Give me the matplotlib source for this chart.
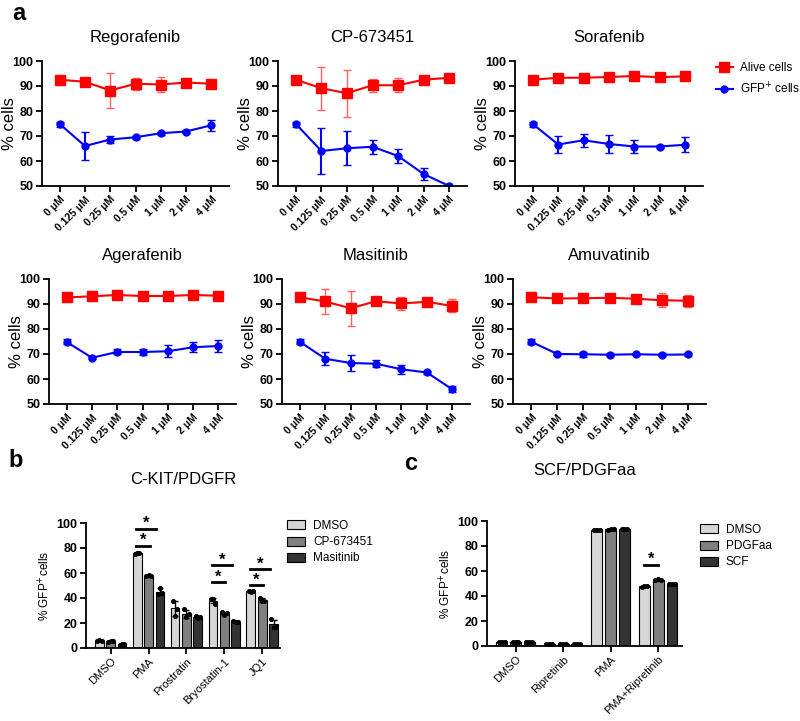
import numpy as np
import matplotlib
matplotlib.use("Agg")
import matplotlib.pyplot as plt
from matplotlib.lines import Line2D

plt.rcParams["font.family"] = ["Liberation Sans", "DejaVu Sans"]

# ---- panel a data ----
doses = ["0 μM", "0.125 μM", "0.25 μM", "0.5 μM", "1 μM", "2 μM", "4 μM"]
drugs = ["Regorafenib", "CP-673451", "Sorafenib", "Agerafenib", "Masitinib", "Amuvatinib"]

alive = {
    "Regorafenib": [92.5, 91.7, 88.2, 90.9, 90.6, 91.4, 90.9],
    "CP-673451": [92.5, 89.1, 87.1, 90.3, 90.3, 92.5, 93.3],
    "Sorafenib": [92.5, 93.3, 93.3, 93.6, 94.0, 93.5, 93.9],
    "Agerafenib": [92.6, 93.1, 93.6, 93.2, 93.2, 93.6, 93.3],
    "Masitinib": [92.7, 91.0, 88.3, 91.1, 90.2, 90.9, 89.2],
    "Amuvatinib": [92.7, 92.2, 92.3, 92.5, 92.1, 91.5, 91.3],
}
alive_err = {
    "Regorafenib": [0.5, 0.5, 7.0, 2.5, 3.1, 1.5, 0.7],
    "CP-673451": [0.5, 8.7, 9.3, 2.7, 2.8, 0.5, 0.5],
    "Sorafenib": [0.5, 0.5, 0.5, 0.5, 0.5, 0.5, 0.5],
    "Agerafenib": [0.5, 0.5, 0.5, 0.5, 0.5, 0.5, 0.5],
    "Masitinib": [0.5, 5.1, 7.0, 0.6, 2.7, 0.6, 2.6],
    "Amuvatinib": [0.5, 0.5, 0.6, 0.5, 0.6, 2.8, 2.4],
}
gfp = {
    "Regorafenib": [74.8, 66.0, 68.6, 69.5, 71.1, 71.8, 74.3],
    "CP-673451": [74.8, 64.0, 65.1, 65.7, 62.0, 54.8, 50.0],
    "Sorafenib": [74.8, 66.6, 68.3, 66.8, 65.8, 65.8, 66.5],
    "Agerafenib": [74.8, 68.5, 70.8, 70.8, 71.1, 72.7, 73.2],
    "Masitinib": [74.9, 68.1, 66.4, 66.1, 63.9, 62.6, 55.9],
    "Amuvatinib": [74.9, 70.0, 69.9, 69.7, 69.9, 69.7, 69.8],
}
gfp_err = {
    "Regorafenib": [1.0, 5.7, 1.5, 0.5, 0.5, 0.6, 2.3],
    "CP-673451": [1.0, 9.3, 6.8, 2.8, 2.7, 2.3, 0.3],
    "Sorafenib": [1.0, 3.5, 2.5, 3.5, 2.7, 0.5, 3.0],
    "Agerafenib": [1.0, 0.4, 1.0, 1.3, 2.3, 2.0, 2.5],
    "Masitinib": [1.0, 2.5, 3.2, 1.3, 1.8, 0.5, 1.3],
    "Amuvatinib": [1.0, 0.5, 1.0, 0.5, 0.5, 0.5, 0.5],
}

# ---- panel b data ----
b_groups = ["DMSO", "PMA", "Prostratin", "Bryostatin-1", "JQ1"]
b_series = ["DMSO", "CP-673451", "Masitinib"]
b_points = {
    "DMSO": [[5.5, 6.2, 6.0], [75.0, 76.2, 75.9], [38.0, 26.0, 31.0], [39.5, 39.0, 35.3], [46.0, 44.5, 45.5]],
    "CP-673451": [[5.0, 5.6, 5.3], [57.5, 58.2, 57.9], [31.0, 24.5, 27.0], [28.5, 26.5, 28.0], [40.0, 37.5, 38.0]],
    "Masitinib": [[2.6, 3.2, 2.9], [43.0, 48.0, 44.0], [25.5, 24.0, 25.0], [22.0, 21.0, 20.5], [23.0, 16.5, 17.5]],
}

# ---- panel c data ----
c_groups = ["DMSO", "Ripretinib", "PMA", "PMA+Ripretinib"]
c_series = ["DMSO", "PDGFaa", "SCF"]
c_points = {
    "DMSO": [[3.3, 3.3, 3.3], [1.8, 1.8, 1.7], [92.6, 92.8, 93.0], [47.6, 48.1, 48.0]],
    "PDGFaa": [[3.3, 3.2, 3.4], [1.7, 1.7, 1.8], [93.2, 93.4, 93.3], [53.0, 53.4, 53.2]],
    "SCF": [[3.5, 3.6, 3.4], [1.7, 1.8, 1.7], [93.7, 93.9, 93.8], [49.8, 49.3, 49.5]],
}

bar_colors = ["#d6d6d6", "#808080", "#333333"]
W, H = 800, 721


def ax_at(fig, left, top, right, bottom):
    return fig.add_axes([left / W, 1 - bottom / H, (right - left) / W, (bottom - top) / H])


def style(ax):
    for s in ("top", "right"):
        ax.spines[s].set_visible(False)
    for s in ("left", "bottom"):
        ax.spines[s].set_linewidth(1.3)
    ax.tick_params(width=1.3, length=4, pad=2)


fig = plt.figure(figsize=(8, 7.21), dpi=100)

# line panels (pixel boxes: left, top, right, bottom)
boxes = [
    (42, 61, 229, 186), (278, 61, 467, 186), (515, 61, 703, 186),
    (49, 279, 236, 404), (282, 279, 470, 404), (513, 279, 706, 404),
]
x = np.arange(len(doses))
for drug, (l, t, r, b) in zip(drugs, boxes):
    ax = ax_at(fig, l, t, r, b)
    style(ax)
    ax.errorbar(x, alive[drug], yerr=alive_err[drug], color="#ff0000", marker="s", ms=7,
                lw=1.5, capsize=3, elinewidth=1, ecolor="#ff6060")
    ax.errorbar(x, gfp[drug], yerr=gfp_err[drug], color="#0000ff", marker="o", ms=5,
                lw=1.5, capsize=3, elinewidth=1.5)
    ax.set_xlim(-0.7, 6.7)
    ax.set_ylim(50, 100)
    ax.set_yticks([50, 60, 70, 80, 90, 100])
    ax.set_xticks(x)
    ax.set_xticklabels(doses, rotation=45, ha="right", rotation_mode="anchor",
                       fontsize=7.5, fontweight="bold")
    for lab in ax.get_yticklabels():
        lab.set_fontweight("bold")
        lab.set_fontsize(9)
    ax.set_ylabel("% cells", fontsize=12)
    ax.yaxis.set_label_coords(-25 / (r - l), 0.5)
    ax.set_title(drug, fontsize=12, pad=14)

handles = [
    Line2D([], [], color="#ff0000", marker="s", ms=7, lw=1.5),
    Line2D([], [], color="#0000ff", marker="o", ms=5, lw=1.5),
]
fig.legend(handles, ["Alive cells", "GFP$^{+}$ cells"], loc="upper left",
           bbox_to_anchor=(716 / W, 1 - 62 / H), frameon=False, fontsize=8.5,
           handlelength=1.4, handletextpad=0.6, labelspacing=0.6, borderaxespad=0, borderpad=0)


def bar_panel(ax, groups, series, points, gap, width):
    style(ax)
    xg = np.arange(len(groups))
    for i, name in enumerate(series):
        pts = np.array(points[name])
        means = pts.mean(axis=1)
        sds = pts.std(axis=1, ddof=1)
        xs = xg + (i - 1) * gap
        ax.bar(xs, means, width=width, color=bar_colors[i], edgecolor="black", linewidth=0.8,
               label=name, zorder=2)
        ax.errorbar(xs, means, yerr=sds, fmt="none", ecolor="black", elinewidth=1,
                    capsize=2.5, zorder=3)
        for j in range(len(groups)):
            ax.scatter(xs[j] + np.array([-0.06, 0, 0.06]), pts[j], s=7, color="black", zorder=4)
    ax.set_ylim(0, 100)
    ax.set_yticks([0, 20, 40, 60, 80, 100])
    for lab in ax.get_yticklabels():
        lab.set_fontweight("bold")
        lab.set_fontsize(9)
    ax.set_xticks(xg)
    ax.set_xticklabels(groups, rotation=45, ha="right", rotation_mode="anchor", fontsize=8)
    ax.set_ylabel("% GFP$^{+}$cells", fontsize=8.5, labelpad=3)


def sig(ax, x1, x2, y):
    ax.plot([x1, x2], [y, y], color="black", lw=2, clip_on=False)
    ax.text((x1 + x2) / 2, y + 0.3, "*", ha="center", va="baseline", fontsize=12,
            fontweight="bold", clip_on=False)


# panel b
axb = ax_at(fig, 86, 523, 280, 648)
bar_panel(axb, b_groups, b_series, b_points, 0.3, 0.23)
axb.set_xlim(-0.65, 4.47)
axb.set_title("C-KIT/PDGFR", fontsize=12, pad=28)
for g, (y1, y2) in zip([1, 3, 4], [(82, 95.5), (52.8, 66.1), (50.1, 62.9)]):
    sig(axb, g - 0.33, g + 0.03, y1)
    sig(axb, g - 0.33, g + 0.2, y2)
axb.legend(loc="upper left", bbox_to_anchor=(287 / W, 1 - 520 / H), bbox_transform=fig.transFigure,
           frameon=False, fontsize=8.5, handlelength=1.5, handleheight=0.8, handletextpad=0.7,
           labelspacing=0.35, borderaxespad=0, borderpad=0)

# panel c
axc = ax_at(fig, 487, 521, 682, 646)
bar_panel(axc, c_groups, c_series, c_points, 0.29, 0.23)
axc.set_xlim(-0.6, 3.5)
axc.set_title("SCF/PDGFaa", fontsize=12, pad=33)
sig(axc, 3 - 0.29, 3 + 0.0, 65.2)
axc.legend(loc="upper left", bbox_to_anchor=(700 / W, 1 - 524 / H), bbox_transform=fig.transFigure,
           frameon=False, fontsize=8.5, handlelength=1.5, handleheight=0.8, handletextpad=0.7,
           labelspacing=0.35, borderaxespad=0, borderpad=0)

# panel letters
fig.text(12 / W, 1 - 14 / H, "a", fontsize=17, fontweight="bold", va="center")
fig.text(8 / W, 1 - 460 / H, "b", fontsize=17, fontweight="bold", va="center")
fig.text(404 / W, 1 - 463 / H, "c", fontsize=17, fontweight="bold", va="center")

fig.savefig("out.png", dpi=100)
